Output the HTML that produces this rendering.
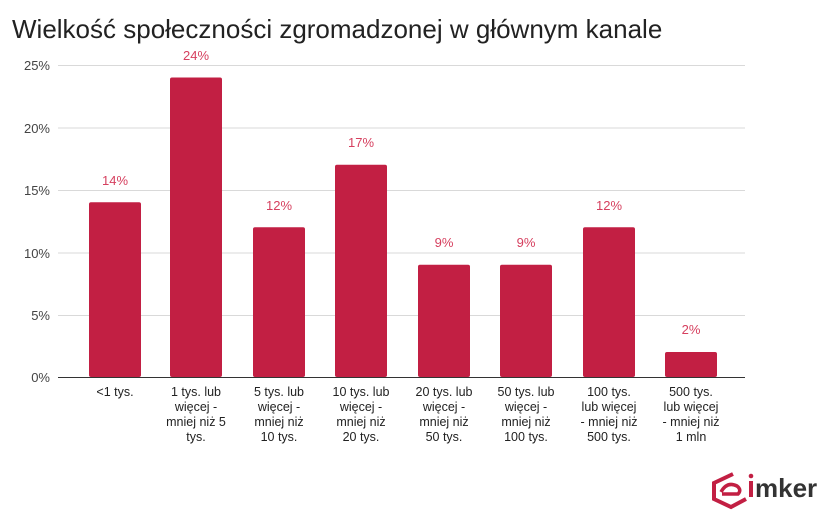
<!DOCTYPE html>
<html><head><meta charset="utf-8"><style>
body{margin:0;background:#fff;width:834px;height:514px;overflow:hidden}
text{font-family:"Liberation Sans",Arial,sans-serif}
</style></head><body>
<svg width="834" height="514" viewBox="0 0 834 514" xmlns="http://www.w3.org/2000/svg">
<text x="12" y="38" font-size="26" fill="#222">Wielkość społeczności zgromadzonej w głównym kanale</text>
<g stroke="#d9d9d9" stroke-width="1">
<line x1="58" x2="745" y1="65.5" y2="65.5"/>
<line x1="58" x2="745" y1="128" y2="128"/>
<line x1="58" x2="745" y1="190.5" y2="190.5"/>
<line x1="58" x2="745" y1="253" y2="253"/>
<line x1="58" x2="745" y1="315.5" y2="315.5"/>
</g>
<line x1="58" x2="745" y1="377.5" y2="377.5" stroke="#333" stroke-width="1"/>
<g font-size="13" fill="#444" text-anchor="end">
<text x="50" y="70">25%</text><text x="50" y="133">20%</text><text x="50" y="195">15%</text>
<text x="50" y="258">10%</text><text x="50" y="320">5%</text><text x="50" y="382">0%</text>
</g>
<g fill="#c21f43">
<rect x="89" y="202.3" width="52" height="174.7" rx="2"/>
<rect x="170" y="77.5" width="52" height="299.5" rx="2"/>
<rect x="253" y="227.2" width="52" height="149.8" rx="2"/>
<rect x="335" y="164.8" width="52" height="212.2" rx="2"/>
<rect x="418" y="264.7" width="52" height="112.3" rx="2"/>
<rect x="500" y="264.7" width="52" height="112.3" rx="2"/>
<rect x="583" y="227.2" width="52" height="149.8" rx="2"/>
<rect x="665" y="352" width="52" height="25" rx="2"/>
</g>
<g font-size="13" fill="#d6405f" text-anchor="middle">
<text x="115" y="185">14%</text><text x="196" y="60">24%</text><text x="279" y="210">12%</text>
<text x="361" y="147">17%</text><text x="444" y="247">9%</text><text x="526" y="247">9%</text>
<text x="609" y="210">12%</text><text x="691" y="334">2%</text>
</g>
<g font-size="12.5" fill="#222" text-anchor="middle">
<text x="115" y="396">&lt;1 tys.</text>
<text x="196" y="396">1 tys. lub<tspan x="196" dy="15">więcej -</tspan><tspan x="196" dy="15">mniej niż 5</tspan><tspan x="196" dy="15">tys.</tspan></text>
<text x="279" y="396">5 tys. lub<tspan x="279" dy="15">więcej -</tspan><tspan x="279" dy="15">mniej niż</tspan><tspan x="279" dy="15">10 tys.</tspan></text>
<text x="361" y="396">10 tys. lub<tspan x="361" dy="15">więcej -</tspan><tspan x="361" dy="15">mniej niż</tspan><tspan x="361" dy="15">20 tys.</tspan></text>
<text x="444" y="396">20 tys. lub<tspan x="444" dy="15">więcej -</tspan><tspan x="444" dy="15">mniej niż</tspan><tspan x="444" dy="15">50 tys.</tspan></text>
<text x="526" y="396">50 tys. lub<tspan x="526" dy="15">więcej -</tspan><tspan x="526" dy="15">mniej niż</tspan><tspan x="526" dy="15">100 tys.</tspan></text>
<text x="609" y="396">100 tys.<tspan x="609" dy="15">lub więcej</tspan><tspan x="609" dy="15">- mniej niż</tspan><tspan x="609" dy="15">500 tys.</tspan></text>
<text x="691" y="396">500 tys.<tspan x="691" dy="15">lub więcej</tspan><tspan x="691" dy="15">- mniej niż</tspan><tspan x="691" dy="15">1 mln</tspan></text>
</g>
<g>
<path d="M733 474 L714 483 L714 499 L731 507 L746 499" fill="none" stroke="#c21f43" stroke-width="4"/>
<path d="M721 492 Q727 481 737 486 Q742 490 738 494 L722 494" fill="none" stroke="#c21f43" stroke-width="3.5"/>
<rect x="749" y="481" width="4" height="16" fill="#c21f43"/>
<circle cx="751" cy="476" r="2.3" fill="#c21f43"/>
<text x="755" y="497" font-size="26" font-weight="bold" fill="#333">mker</text>
</g>
</svg>
</body></html>
